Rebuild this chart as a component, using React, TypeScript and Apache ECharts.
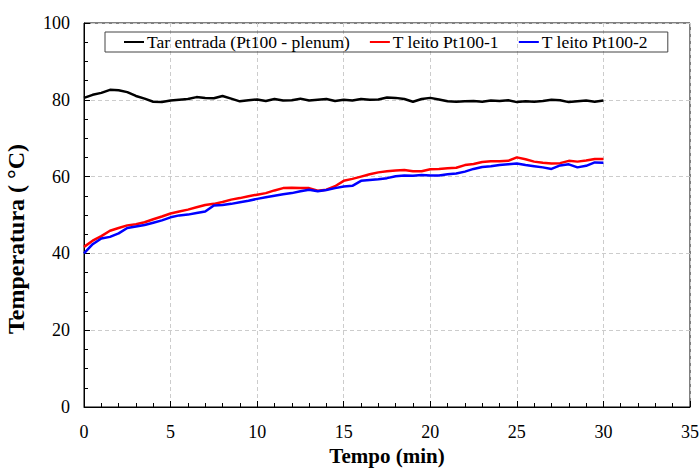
import React, { useEffect, useRef } from "react";
import * as echarts from "echarts";

const times: number[] = [
  0, 0.5, 1, 1.5, 2, 2.5, 3, 3.5, 4, 4.5, 5, 5.5, 6, 6.5, 7, 7.5, 8, 8.5, 9, 9.5,
  10, 10.5, 11, 11.5, 12, 12.5, 13, 13.5, 14, 14.5, 15, 15.5, 16, 16.5, 17, 17.5,
  18, 18.5, 19, 19.5, 20, 20.5, 21, 21.5, 22, 22.5, 23, 23.5, 24, 24.5, 25, 25.5,
  26, 26.5, 27, 27.5, 28, 28.5, 29, 29.5, 30,
];

const tarEntrada: number[] = [
  80.5, 81.3, 81.8, 82.6, 82.5, 82.0, 81.0, 80.3, 79.5, 79.4, 79.8, 80.0, 80.2,
  80.7, 80.5, 80.4, 81.0, 80.3, 79.6, 79.9, 80.1, 79.7, 80.2, 79.8, 79.9, 80.3,
  79.8, 80.0, 80.2, 79.7, 80.0, 79.8, 80.2, 80.0, 80.1, 80.6, 80.5, 80.2, 79.5,
  80.2, 80.5, 80.1, 79.6, 79.5, 79.6, 79.7, 79.5, 79.8, 79.7, 79.9, 79.4, 79.6,
  79.5, 79.7, 80.0, 79.9, 79.4, 79.6, 79.8, 79.5, 79.8,
];

const leito1: number[] = [
  41.7, 43.3, 44.5, 45.9, 46.6, 47.3, 47.6, 48.1, 48.9, 49.6, 50.4, 50.9, 51.4,
  52.0, 52.6, 52.9, 53.4, 54.0, 54.4, 54.9, 55.3, 55.7, 56.4, 57.0, 57.1, 57.0,
  57.0, 56.3, 56.6, 57.5, 58.9, 59.4, 60.0, 60.6, 61.1, 61.4, 61.6, 61.7, 61.4,
  61.4, 61.9, 62.0, 62.2, 62.3, 63.0, 63.3, 63.8, 64.0, 64.0, 64.1, 65.0, 64.5,
  63.9, 63.6, 63.4, 63.5, 64.1, 63.9, 64.2, 64.6, 64.6,
];

const leito2: number[] = [
  40.0, 42.4, 43.9, 44.3, 45.2, 46.6, 47.0, 47.4, 48.0, 48.6, 49.4, 49.9, 50.1,
  50.5, 50.9, 52.5, 52.6, 52.9, 53.3, 53.7, 54.2, 54.6, 55.0, 55.4, 55.7, 56.2,
  56.6, 56.2, 56.5, 57.0, 57.4, 57.6, 58.9, 59.1, 59.3, 59.6, 60.1, 60.3, 60.2,
  60.4, 60.3, 60.3, 60.6, 60.8, 61.3, 62.0, 62.5, 62.7, 63.0, 63.2, 63.4, 63.0,
  62.7, 62.4, 62.0, 62.9, 63.2, 62.4, 62.8, 63.7, 63.6,
];

const seriesNames = ["Tar entrada (Pt100 - plenum)", "T leito Pt100-1", "T leito Pt100-2"];
const seriesColors = ["#000000", "#ff0000", "#0000ff"];

const FONT = "'Liberation Serif', 'Times New Roman', serif";

export default function App() {
  const ref = useRef<HTMLDivElement>(null);
  useEffect(() => {
    if (!ref.current) return;
    const chart = echarts.init(ref.current, undefined, { renderer: "svg" });
    const datasets = [tarEntrada, leito1, leito2];
    chart.setOption({
      animation: false,
      backgroundColor: "#ffffff",
      textStyle: { fontFamily: FONT },
      grid: {
        left: 84,
        top: 23,
        right: 10,
        bottom: 61,
        outerBoundsMode: "none",
        containLabel: false,
        show: true,
        borderColor: "#000",
        borderWidth: 1,
        backgroundColor: "transparent",
      },
      legend: {
        left: 105,
        top: 32,
        orient: "horizontal",
        borderColor: "#444",
        borderWidth: 1,
        padding: [1, 20, 1, 19],
        itemGap: 20,
        itemWidth: 20,
        itemHeight: 2,
        icon: "rect",
        textStyle: { fontFamily: FONT, fontSize: 17.5, color: "#000", padding: [0, 0, 0, -2] },
        data: seriesNames.map((n) => ({ name: n })),
      },
      xAxis: {
        type: "value",
        min: 0,
        max: 35,
        interval: 5,
        name: "Tempo (min)",
        nameLocation: "middle",
        nameGap: 25,
        nameTextStyle: { fontFamily: FONT, fontSize: 21, fontWeight: "bold", color: "#000" },
        axisLine: { show: true, onZero: false, lineStyle: { color: "#000", width: 1 } },
        axisTick: { show: true, inside: true, length: 6, lineStyle: { color: "#000" } },
        minorTick: { show: true, splitNumber: 5, length: 4, lineStyle: { color: "#000" } },
        axisLabel: { fontFamily: FONT, fontSize: 18, color: "#000", margin: 16 },
        splitLine: { show: true, lineStyle: { color: "#cccccc", type: [4, 3], width: 1 } },
      },
      yAxis: {
        type: "value",
        min: 0,
        max: 100,
        interval: 20,
        name: "Temperatura ( °C)",
        nameLocation: "middle",
        nameGap: 56,
        nameTextStyle: {
          fontFamily: FONT,
          fontSize: 24,
          fontWeight: "bold",
          color: "#000",
          padding: [0, 48, 0, 0],
        },
        axisLine: { show: true, lineStyle: { color: "#000", width: 1 } },
        axisTick: { show: true, inside: true, length: 6, lineStyle: { color: "#000" } },
        minorTick: { show: true, splitNumber: 4, length: 4, lineStyle: { color: "#000" } },
        axisLabel: { fontFamily: FONT, fontSize: 18, color: "#000", margin: 14 },
        splitLine: { show: true, lineStyle: { color: "#cccccc", type: [4, 3], width: 1 } },
      },
      series: datasets.map((d, i) => ({
        name: seriesNames[i],
        type: "line",
        data: times.map((t, j) => [t, d[j]]),
        symbol: "none",
        showSymbol: false,
        color: seriesColors[i],
        lineStyle: { color: seriesColors[i], width: 2.5 },
      })),
    });
    return () => chart.dispose();
  }, []);
  return <div ref={ref} style={{ width: 700, height: 468, position: "absolute", left: 0, top: 0 }} />;
}
